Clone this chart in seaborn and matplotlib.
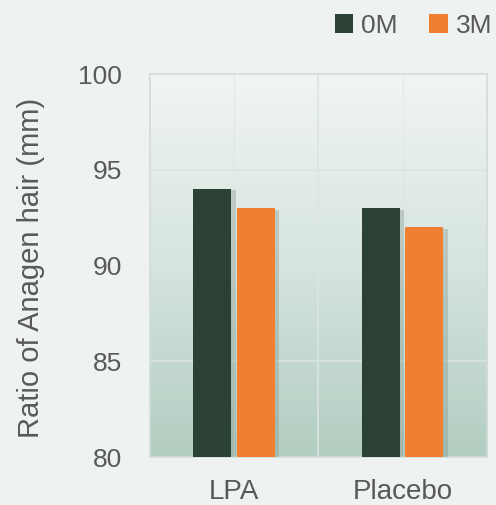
import numpy as np
import pandas as pd
import matplotlib
matplotlib.use("Agg")
import matplotlib.pyplot as plt
import matplotlib.patheffects as pe
from matplotlib.colors import LinearSegmentedColormap
from matplotlib.patches import Patch
import seaborn as sns

# data
groups = ["LPA", "Placebo"]
series = ["0M", "3M"]
values_0m = [94, 93]
values_3m = [93, 92]
colors = ["#2b4133", "#f07f31"]

df = pd.DataFrame({
    "group": groups * 2,
    "time": [series[0]] * 2 + [series[1]] * 2,
    "value": values_0m + values_3m,
})

sns.set_style("white")
plt.rcParams["font.family"] = ["Liberation Sans", "DejaVu Sans"]
text_col = "#595959"

fig = plt.figure(figsize=(4.96, 5.05), dpi=100, facecolor="#eef2f1")
ax = fig.add_axes([0.302, 0.095, 0.68, 0.758])

sns.barplot(data=df, x="group", y="value", hue="time", palette=colors,
            width=0.515, gap=0.126, saturation=1, legend=False, ax=ax,
            edgecolor="none", linewidth=0, zorder=3)

for bar in ax.patches:
    bar.set_path_effects([pe.SimplePatchShadow(offset=(3, -1), shadow_rgbFace="#7f9189", alpha=0.35),
                          pe.Normal()])

# gradient background of the plot area
cmap = LinearSegmentedColormap.from_list("bg", ["#b2cdc1", "#d6e4de", "#f1f5f3"])
grad = np.linspace(0, 1, 256).reshape(-1, 1)
ax.imshow(grad, extent=[0, 1, 0, 1], transform=ax.transAxes, aspect="auto",
          cmap=cmap, origin="lower", zorder=0)
ax.set_ylim(80, 100)
ax.set_xlim(-0.5, 1.5)
ax.set_yticks([80, 85, 90, 95, 100])

for y in [85, 90, 95]:
    ax.axhline(y, color="#dbe5e1", lw=1.2, zorder=1)
ax.axvline(0.5, color="#dbe5e1", lw=1.2, zorder=1)
for x in [0, 1]:
    ax.axvline(x, color="#dbe5e1", lw=0.8, alpha=0.6, zorder=1)

for s in ax.spines.values():
    s.set_color("#d3dcd8")
    s.set_linewidth(1.2)

ax.set_xlabel("")
ax.set_ylabel("")
ax.tick_params(axis="y", length=0, pad=20, labelsize=19, labelcolor=text_col)
ax.tick_params(axis="x", length=0, pad=16, labelsize=20, labelcolor=text_col)

fig.text(31 / 496, 0.47, "Ratio of Anagen hair (mm)", rotation=90,
         ha="center", va="center", fontsize=21, color=text_col)

handles = [Patch(facecolor=c, edgecolor="none") for c in colors]
fig.legend(handles, series, loc="upper right", bbox_to_anchor=(1.04, 1.02),
           ncol=2, frameon=False, fontsize=19, labelcolor=text_col,
           handlelength=0.7, handleheight=0.7, handletextpad=0.3,
           columnspacing=1.2)

fig.savefig("out.png", dpi=100, facecolor=fig.get_facecolor())
